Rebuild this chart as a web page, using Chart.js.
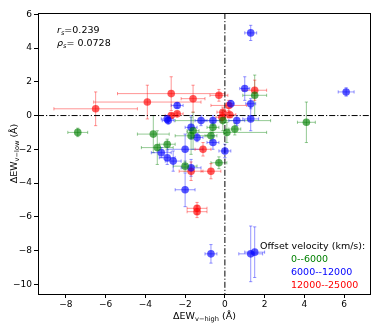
<!DOCTYPE html>
<html>
<head>
<meta charset="utf-8">
<script src="https://cdn.jsdelivr.net/npm/chart.js@4"></script>
<style>
html,body{margin:0;padding:0;background:#fff;}
#wrap{width:382px;height:327px;position:relative;}
</style>
</head>
<body>
<div id="wrap"><canvas id="c" width="382" height="327"></canvas></div>
<script>
// ---- data ----
const greenX    = [-7.4, -3.6, -3.4, -2.9, -1.7, -1.6, -0.6, -0.7, -2.0, -0.3, -0.1, 0.1, 0.5, 1.5, 4.1];
const greenY    = [-1.0, -1.1, -1.9, -1.7, -1.2, -0.9, -0.7, -1.2, -3.0, -2.8, -0.3, -1.0, -0.8, 1.2, -0.4];
const greenXErr = [0.5, 0.8, 0.8, 0.4, 0.8, 0.3, 0.3, 0.3, 0.6, 0.4, 2.4, 2.0, 0.3, 0.6, 0.45];
const greenYErr = [0.25, 1.1, 1.0, 0.3, 1.1, 1.1, 0.3, 0.3, 0.3, 0.35, 0.6, 0.6, 0.35, 1.2, 1.2];

const blueX    = [1.3, 1.0, 6.1, 1.3, 0.3, 1.3, -2.4, -2.9, -2.85, -1.2, -0.6, 0.6, -1.7, -1.4, -0.6, 0.0, -2.0, -3.2, -2.9, -2.6, -1.7, -2.0, -0.7, 1.3, 1.5];
const blueY    = [4.9, 1.6, 1.4, 0.7, 0.7, -0.2, 0.6, -0.2, -0.3, -0.3, -0.3, -0.3, -0.7, -1.3, -1.6, -2.1, -2.0, -2.2, -2.5, -2.7, -3.1, -4.4, -8.2, -8.2, -8.1];
const blueXErr = [0.3, 0.25, 0.4, 0.25, 0.15, 0.4, 0.3, 0.3, 0.3, 0.3, 0.4, 0.4, 0.3, 0.3, 0.3, 0.3, 0.9, 0.5, 0.4, 0.4, 0.5, 0.5, 0.3, 0.6, 0.5];
const blueYErr = [0.45, 0.7, 0.25, 0.3, 0.2, 0.7, 0.15, 0.2, 0.2, 0.3, 0.3, 0.3, 0.7, 0.25, 0.4, 0.4, 0.9, 0.3, 0.4, 0.6, 0.5, 1.0, 0.55, 1.65, 1.5];

const redX    = [-6.5, -3.9, -2.7, -1.6, -0.3, 1.5, 0.2, -0.1, -0.15, 0.25, -2.7, -2.4, -1.1, -1.7, -0.7, -1.4, -1.4];
const redY    = [0.4, 0.8, 1.3, 1.0, 1.2, 1.5, 0.6, 0.2, -0.1, 0.05, 0.0, 0.1, -2.0, -3.3, -3.3, -5.5, -5.7];
const redXErr = [2.1, 2.7, 2.7, 0.6, 0.45, 0.6, 0.9, 0.3, 0.3, 0.3, 0.3, 0.3, 0.4, 0.6, 0.5, 0.5, 0.5];
const redYErr = [1.0, 1.0, 1.0, 0.8, 0.35, 0.6, 0.3, 0.3, 0.3, 0.15, 0.1, 0.1, 0.4, 0.55, 0.45, 0.35, 0.35];

const seriesLabels = ['0--6000', '6000--12000', '12000--25000'];
const legendTitle = 'Offset velocity (km/s):';
const statR = '0.239';
const statP = '0.0728';
const xTicks = [-8, -6, -4, -2, 0, 2, 4, 6];
const yTicks = [-10, -8, -6, -4, -2, 0, 2, 4, 6];

const FONT = '"DejaVu Sans", sans-serif';
const toPts = (xs, ys) => xs.map((x, i) => ({x: x, y: ys[i]}));
const fmt = v => (v < 0 ? '\u2212' + Math.abs(v) : String(v));

function mkSet(label, xs, ys, xe, ye, rgb) {
  return {
    label: label,
    data: toPts(xs, ys),
    xerr: xe, yerr: ye, rgb: rgb,
    backgroundColor: 'rgba(' + rgb + ',0.65)',
    borderColor: 'rgba(' + rgb + ',0)',
    borderWidth: 0,
    pointRadius: 3.8,
    pointHoverRadius: 3.8
  };
}

const errorBars = {
  id: 'errorBars',
  beforeDatasetsDraw(chart) {
    const ctx = chart.ctx, xs = chart.scales.x, ys = chart.scales.y, a = chart.chartArea;
    ctx.save();
    ctx.beginPath(); ctx.rect(a.left, a.top, a.right - a.left, a.bottom - a.top); ctx.clip();
    ctx.lineWidth = 1;
    const cap = 1.6;
    chart.data.datasets.forEach(ds => {
      ctx.strokeStyle = 'rgba(' + ds.rgb + ',0.42)';
      ds.data.forEach((p, i) => {
        const px = xs.getPixelForValue(p.x), py = ys.getPixelForValue(p.y);
        const x1 = xs.getPixelForValue(p.x - ds.xerr[i]), x2 = xs.getPixelForValue(p.x + ds.xerr[i]);
        const y1 = ys.getPixelForValue(p.y - ds.yerr[i]), y2 = ys.getPixelForValue(p.y + ds.yerr[i]);
        ctx.beginPath();
        ctx.moveTo(x1, py); ctx.lineTo(x2, py);
        ctx.moveTo(px, y1); ctx.lineTo(px, y2);
        ctx.moveTo(x1, py - cap); ctx.lineTo(x1, py + cap);
        ctx.moveTo(x2, py - cap); ctx.lineTo(x2, py + cap);
        ctx.moveTo(px - cap, y1); ctx.lineTo(px + cap, y1);
        ctx.moveTo(px - cap, y2); ctx.lineTo(px + cap, y2);
        ctx.stroke();
      });
    });
    // zero reference lines
    ctx.strokeStyle = '#000';
    ctx.lineWidth = 1;
    ctx.setLineDash([6, 2, 1.2, 2]);
    const x0 = xs.getPixelForValue(0), y0 = ys.getPixelForValue(0);
    ctx.beginPath();
    ctx.moveTo(x0, a.top); ctx.lineTo(x0, a.bottom);
    ctx.moveTo(a.left, y0); ctx.lineTo(a.right, y0);
    ctx.stroke();
    ctx.restore();
  },
  afterDraw(chart) {
    const ctx = chart.ctx, a = chart.chartArea;
    ctx.save();
    // frame
    ctx.strokeStyle = '#000'; ctx.lineWidth = 1;
    ctx.strokeRect(Math.round(a.left) + 0.5, Math.round(a.top) + 0.5, Math.round(a.right - a.left) - 1, Math.round(a.bottom - a.top));
    ctx.fillStyle = '#000';
    ctx.textBaseline = 'alphabetic';
    // stats text
    const fs = 9.5;
    function sub(x, y, main, subt, rest, italic) {
      ctx.font = (italic ? 'italic ' : '') + fs + 'px ' + FONT;
      ctx.fillText(main, x, y); x += ctx.measureText(main).width;
      ctx.font = (italic ? 'italic ' : '') + (fs * 0.7) + 'px ' + FONT;
      ctx.fillText(subt, x, y + 2); x += ctx.measureText(subt).width;
      ctx.font = fs + 'px ' + FONT;
      ctx.fillText(rest, x, y);
    }
    ctx.textAlign = 'left';
    sub(57, 32.5, 'r', 's', '=' + statR, true);
    sub(57, 46, '\u03C1', 's', '= ' + statP, true);
    // legend
    ctx.font = fs + 'px ' + FONT;
    ctx.fillStyle = '#000';
    ctx.fillText(legendTitle, 260, 249);
    const cols = ['#008000', '#0000ff', '#ff0000'];
    seriesLabels.forEach((t, i) => {
      ctx.fillStyle = cols[i];
      ctx.fillText(t, 291, 262 + i * 13.2);
    });
    // axis titles
    ctx.fillStyle = '#000';
    function title(cx, cy, base, subt, rest) {
      ctx.font = fs + 'px ' + FONT; const w1 = ctx.measureText(base).width, w3 = ctx.measureText(rest).width;
      ctx.font = (fs * 0.7) + 'px ' + FONT; const w2 = ctx.measureText(subt).width;
      let x = cx - (w1 + w2 + w3) / 2;
      ctx.font = fs + 'px ' + FONT; ctx.fillText(base, x, cy); x += w1;
      ctx.font = (fs * 0.7) + 'px ' + FONT; ctx.fillText(subt, x, cy + 2); x += w2;
      ctx.font = fs + 'px ' + FONT; ctx.fillText(rest, x, cy);
    }
    title((a.left + a.right) / 2, 319, '\u0394EW', 'v\u2212high', ' (\u00C5)');
    ctx.save();
    ctx.translate(17, (a.top + a.bottom) / 2);
    ctx.rotate(-Math.PI / 2);
    title(0, 0, '\u0394EW', 'v\u2212low', ' (\u00C5)');
    ctx.restore();
    ctx.restore();
  }
};

new Chart(document.getElementById('c'), {
  type: 'scatter',
  data: {
    datasets: [
      mkSet(seriesLabels[0], greenX, greenY, greenXErr, greenYErr, '0,128,0'),
      mkSet(seriesLabels[1], blueX, blueY, blueXErr, blueYErr, '0,0,255'),
      mkSet(seriesLabels[2], redX, redY, redXErr, redYErr, '255,0,0')
    ]
  },
  options: {
    responsive: false,
    animation: false,
    devicePixelRatio: 1,
    layout: {padding: {top: 13, right: 11, left: 0, bottom: 0}},
    plugins: {legend: {display: false}, tooltip: {enabled: false}},
    scales: {
      x: {
        type: 'linear', min: -9.4, max: 7.35,
        afterBuildTicks: s => { s.ticks = xTicks.map(v => ({value: v})); },
        afterFit: s => { s.height = 33; },
        grid: {display: true, drawOnChartArea: false, drawTicks: true, tickLength: 4, color: '#000', tickWidth: 1},
        border: {display: false},
        ticks: {font: {family: FONT, size: 9}, color: '#000', padding: 1, callback: fmt, maxRotation: 0, autoSkip: false}
      },
      y: {
        type: 'linear', min: -10.58, max: 6.08,
        afterBuildTicks: s => { s.ticks = yTicks.map(v => ({value: v})); },
        afterFit: s => { s.width = 38; },
        grid: {display: true, drawOnChartArea: false, drawTicks: true, tickLength: 4, color: '#000', tickWidth: 1},
        border: {display: false},
        ticks: {font: {family: FONT, size: 9}, color: '#000', padding: 2, callback: fmt, autoSkip: false}
      }
    }
  },
  plugins: [errorBars]
});
</script>
</body>
</html>
